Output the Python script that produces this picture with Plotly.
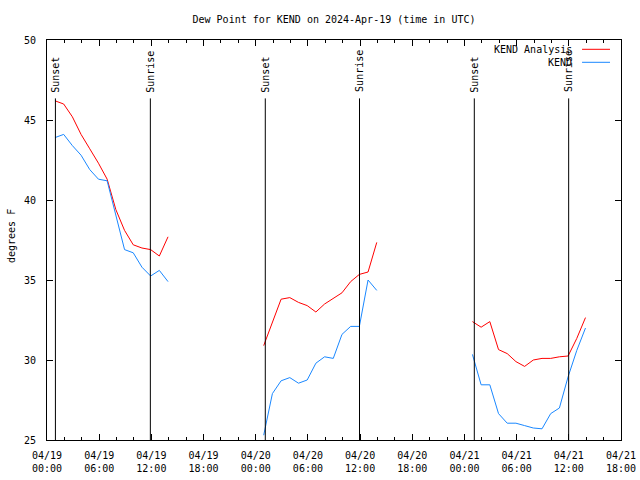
import plotly.graph_objects as go

# ---- data ----
days = ["2024-04-19", "2024-04-20", "2024-04-21"]
obs_hours = ["00:55", "01:55", "02:55", "03:55", "04:55", "05:55", "06:55",
             "07:55", "08:55", "09:55", "10:55", "11:55", "12:55", "13:55"]

analysis_vals = [
    [46.2, 46.0, 45.2, 44.1, 43.2, 42.3, 41.3, 39.4, 38.1, 37.2, 37.0, 36.9, 36.5, 37.7],
    [30.9, 32.4, 33.8, 33.9, 33.6, 33.4, 33.0, 33.5, 33.85, 34.2, 34.9, 35.35, 35.5, 37.35],
    [32.4, 32.05, 32.4, 30.65, 30.4, 29.9, 29.6, 30.0, 30.1, 30.1, 30.2, 30.25, 31.35, 32.65],
]
kend_vals = [
    [43.9, 44.1, 43.4, 42.8, 41.9, 41.3, 41.2, 39.0, 36.9, 36.7, 35.8, 35.25, 35.6, 34.9],
    [25.3, 27.9, 28.7, 28.9, 28.55, 28.75, 29.8, 30.2, 30.1, 31.6, 32.1, 32.1, 35.0, 34.35],
    [30.35, 28.45, 28.45, 26.65, 26.05, 26.05, 25.9, 25.75, 25.7, 26.65, 27.0, 28.95, 30.6, 32.0],
]

sun_times = ["2024-04-19 00:58", "2024-04-19 11:53", "2024-04-20 01:06",
             "2024-04-20 11:56", "2024-04-21 01:08", "2024-04-21 11:59"]
sun_labels = ["Sunset", "Sunrise", "Sunset", "Sunrise", "Sunset", "Sunrise"]

tick_vals = ["2024-04-19 00:00", "2024-04-19 06:00", "2024-04-19 12:00", "2024-04-19 18:00",
             "2024-04-20 00:00", "2024-04-20 06:00", "2024-04-20 12:00", "2024-04-20 18:00",
             "2024-04-21 00:00", "2024-04-21 06:00", "2024-04-21 12:00", "2024-04-21 18:00"]
tick_text = ["04/19<br>00:00", "04/19<br>06:00", "04/19<br>12:00", "04/19<br>18:00",
             "04/20<br>00:00", "04/20<br>06:00", "04/20<br>12:00", "04/20<br>18:00",
             "04/21<br>00:00", "04/21<br>06:00", "04/21<br>12:00", "04/21<br>18:00"]

series_names = ["KEND Analysis", "KEND"]
series_colors = ["#ff0000", "#1a88ff"]

FONT = "DejaVu Sans Mono"

def build(vals):
    xs, ys = [], []
    for d, seg in zip(days, vals):
        for h, v in zip(obs_hours, seg):
            xs.append(f"{d} {h}")
            ys.append(v)
        xs.append(None)
        ys.append(None)
    return xs, ys

fig = go.Figure()
for name, color, vals in zip(series_names, series_colors, [analysis_vals, kend_vals]):
    xs, ys = build(vals)
    fig.add_trace(go.Scatter(x=xs, y=ys, mode="lines", name=name,
                             line=dict(color=color, width=1), connectgaps=False,
                             showlegend=False))

shapes = []
annotations = []
for t, lab in zip(sun_times, sun_labels):
    shapes.append(dict(type="line", xref="x", yref="y", x0=t, x1=t, y0=25, y1=46.35,
                       line=dict(color="black", width=1)))
    annotations.append(dict(x=t, y=46.6, xref="x", yref="y", text=lab, textangle=-90,
                            showarrow=False, xanchor="center", yanchor="bottom",
                            font=dict(family=FONT, size=10, color="black")))

# manual gnuplot-style legend (text then line sample)
legend_rows_y = [49.3, 62.3]
x0p, x1p = 46.5, 621.0
def px_to_paper_x(px):
    return (px - x0p) / (x1p - x0p)
def px_to_paper_y(py):
    return (440 - py) / 400.0

for name, color, py in zip(series_names, series_colors, legend_rows_y):
    annotations.append(dict(x=px_to_paper_x(574), y=px_to_paper_y(py), xref="paper", yref="paper",
                            text=name, showarrow=False, xanchor="right", yanchor="middle",
                            font=dict(family=FONT, size=10, color="black")))
    shapes.append(dict(type="line", xref="paper", yref="paper",
                       x0=px_to_paper_x(582), x1=px_to_paper_x(610),
                       y0=px_to_paper_y(py), y1=px_to_paper_y(py),
                       line=dict(color=color, width=1)))

annotations.append(dict(x=px_to_paper_x(10.5), y=px_to_paper_y(236), xref="paper", yref="paper",
                        text="degrees F", textangle=-90, showarrow=False,
                        xanchor="center", yanchor="middle",
                        font=dict(family=FONT, size=10, color="black")))

fig.update_layout(
    width=640, height=480,
    margin=dict(l=46.5, r=19, t=40, b=40, autoexpand=False),
    paper_bgcolor="white", plot_bgcolor="white",
    title=dict(text="Dew Point for KEND on 2024-Apr-19 (time in UTC)",
               x=0.5, xref="paper", y=1 - 19 / 480, yanchor="middle",
               font=dict(family=FONT, size=10, color="black")),
    shapes=shapes, annotations=annotations,
    font=dict(family=FONT, size=10, color="black"),
)
fig.update_xaxes(
    type="date", range=["2024-04-19 00:00", "2024-04-21 18:00"],
    tickvals=tick_vals, ticktext=tick_text, automargin=False,
    ticks="inside", ticklen=6, tickcolor="black", tickwidth=1,
    showline=True, linecolor="black", linewidth=1, mirror="ticks",
    showgrid=False, zeroline=False, ticklabelstandoff=6,
    minor=dict(dtick=2 * 3600 * 1000, ticks="inside", ticklen=3, tickcolor="black", showgrid=False),
    tickfont=dict(family=FONT, size=10, color="black"),
)
fig.update_yaxes(
    range=[25, 50], tickvals=[25, 30, 35, 40, 45, 50], automargin=False,
    ticks="inside", ticklen=6, tickcolor="black", tickwidth=1,
    showline=True, linecolor="black", linewidth=1, mirror="ticks",
    showgrid=False, zeroline=False, ticklabelstandoff=8,
    tickfont=dict(family=FONT, size=10, color="black"),
)

fig.write_html("out.html", config={"displayModeBar": False},
               post_script="document.body.style.margin='0';document.body.style.overflow='hidden';")
